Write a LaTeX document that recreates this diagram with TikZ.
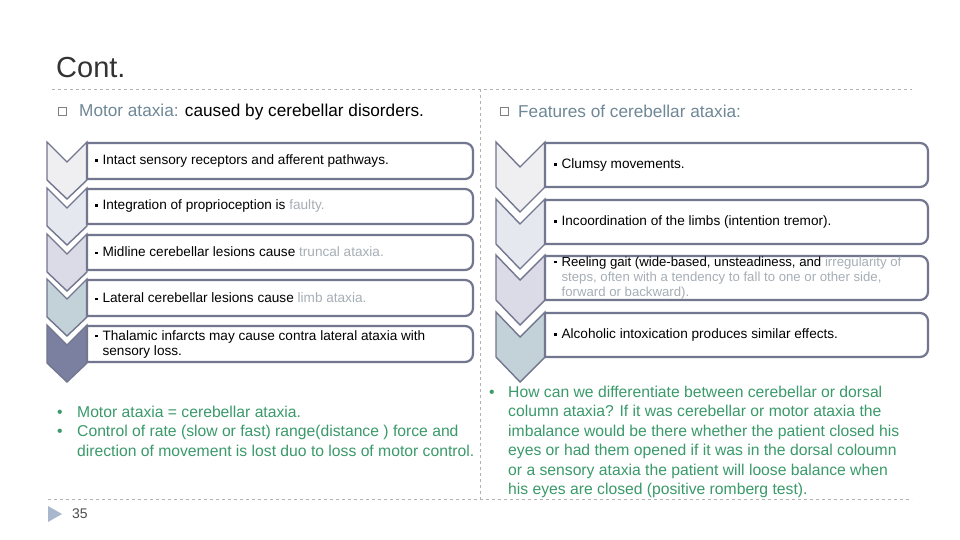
\documentclass[tikz,border=0pt]{standalone}
\usepackage{fontspec}
\setmainfont{Liberation Sans}
\begin{document}
\begin{tikzpicture}[x=1pt,y=-1pt,
  bord/.style={draw=bordc,line width=2.2pt},
  chev/.style={draw=bordc,line width=1.4pt,line join=miter},
  btxt/.style={anchor=west,font=\fontsize{13.6}{15}\selectfont,align=left,inner sep=0pt},
  gtxt/.style={anchor=north west,font=\fontsize{15.7}{19.4}\selectfont,text=greenc,align=left,inner sep=0pt},
  dashln/.style={draw=gray!60,dashed,line width=0.6pt}]
\definecolor{bordc}{HTML}{72768F}
\definecolor{greenc}{HTML}{3A9A6A}
\definecolor{headc}{HTML}{6F8796}
\definecolor{lgray}{HTML}{A6AEB6}
\definecolor{ca}{HTML}{EFEFF1}
\definecolor{cb}{HTML}{E6E8F0}
\definecolor{cc}{HTML}{DADBE6}
\definecolor{cd}{HTML}{C3D1D9}
\definecolor{ce}{HTML}{7B80A0}
\definecolor{trc}{HTML}{A9B7CC}
\newcommand{\sqb}{\rule[2.8pt]{2.4pt}{2.4pt}\hspace{5pt}}
\fill[white] (0,0) rectangle (960,540);
\useasboundingbox (0,0) rectangle (960,540);
% title
\node[anchor=west,font=\fontsize{29}{30}\selectfont,text=black!80,inner sep=0pt] (title) at (56,68) {Cont.};
% dashed frame
\draw[dashln] (52,89) -- (912,89);
\draw[dashln] (48,499) -- (912,499);
\draw[dashln] (480,89) -- (480,499);
% headings
\draw[gray,line width=0.6pt] (58,107) rectangle (66,115);
\node[anchor=west,font=\fontsize{17.2}{20}\selectfont,inner sep=0pt] (hl) at (79,112) {\textcolor{headc}{Motor ataxia:} caused by cerebellar disorders.};
\draw[gray,line width=0.6pt] (500,107) rectangle (508,115);
\node[anchor=west,font=\fontsize{17.2}{20}\selectfont,text=headc,inner sep=0pt] (hr) at (518,111) {Features of cerebellar ataxia:};
% left list
\foreach \t/\b/\c/\n in {143/179/ca/1,189/224/cb/2,235/270/cc/3,280/316/cd/4,326/362/ce/5}{
  \draw[chev,fill=\c] (47,\t-1) -- (67,\t+19) -- (87,\t-1) -- (87,\t+37) -- (67,\t+56) -- (47,\t+37) -- cycle;
  \draw[bord,fill=white] (87,\t) -- (465,\t) to[out=0,in=90] (473,\t+8) -- (473,\b-8) to[out=-90,in=0] (465,\b) -- (87,\b) -- cycle;
}
\node[btxt] (l1) at (95,161) {\sqb Intact sensory receptors and afferent  pathways.};
\node[btxt] (l2) at (95,206) {\sqb Integration of proprioception is \textcolor{lgray}{faulty.}};
\node[btxt] (l3) at (95,252) {\sqb Midline cerebellar lesions cause \textcolor{lgray}{truncal ataxia.}};
\node[btxt] (l4) at (95,298) {\sqb Lateral cerebellar lesions cause \textcolor{lgray}{limb ataxia.}};
\node[btxt] (l5) at (95,344) {\sqb Thalamic infarcts may cause contra lateral ataxia with\\\hspace{7.4pt}sensory loss.};
% right list
\foreach \t/\b/\c in {143/187/ca,200/244/cb,256/300/cc,313/357/cd}{
  \draw[chev,fill=\c] (496,\t-1) -- (520,\t+24) -- (545,\t-1) -- (545,\t+44) -- (520,\t+69) -- (496,\t+44) -- cycle;
  \draw[bord,fill=white] (545,\t) -- (920,\t) to[out=0,in=90] (928,\t+8) -- (928,\b-8) to[out=-90,in=0] (920,\b) -- (545,\b) -- cycle;
}
\node[btxt] (r1) at (554,165) {\sqb Clumsy movements.};
\node[btxt] (r2) at (554,222) {\sqb Incoordination of the limbs (intention tremor).};
\node[btxt,font=\fontsize{13.2}{15.3}\selectfont] (r3) at (554,278) {\sqb Reeling gait (wide-based, unsteadiness, and \textcolor{lgray}{irregularity of}\\\hspace{7.4pt}\textcolor{lgray}{steps,  often with a tendency to fall to one or other side,}\\\hspace{7.4pt}\textcolor{lgray}{forward or backward).}};
\node[btxt] (r4) at (554,335) {\sqb Alcoholic intoxication produces similar  effects.};
% bottom texts
\node[gtxt] (gl) at (57,406) {\makebox[20pt][l]{\textbullet}Motor ataxia = cerebellar ataxia.\\
\makebox[20pt][l]{\textbullet}Control of rate (slow or fast) range(distance ) force and\\
\hspace{20pt}direction of movement is lost duo to loss of motor control.};
\node[gtxt] (gr) at (489,386) {\makebox[19pt][l]{\textbullet}How can we differentiate between cerebellar or dorsal\\
\hspace{19pt}column ataxia? If it was cerebellar or motor ataxia the\\
\hspace{19pt}imbalance would be there whether the patient closed his\\
\hspace{19pt}eyes or had them opened if it was in the dorsal coloumn\\
\hspace{19pt}or a sensory ataxia the patient will loose balance when\\
\hspace{19pt}his eyes are closed (positive romberg test).};
% footer
\fill[trc] (48,506) -- (62,514) -- (48,522) -- cycle;
\node[anchor=west,font=\fontsize{14}{16}\selectfont,text=black!70,inner sep=0pt] (pg) at (72,514) {35};
\end{tikzpicture}
\end{document}
